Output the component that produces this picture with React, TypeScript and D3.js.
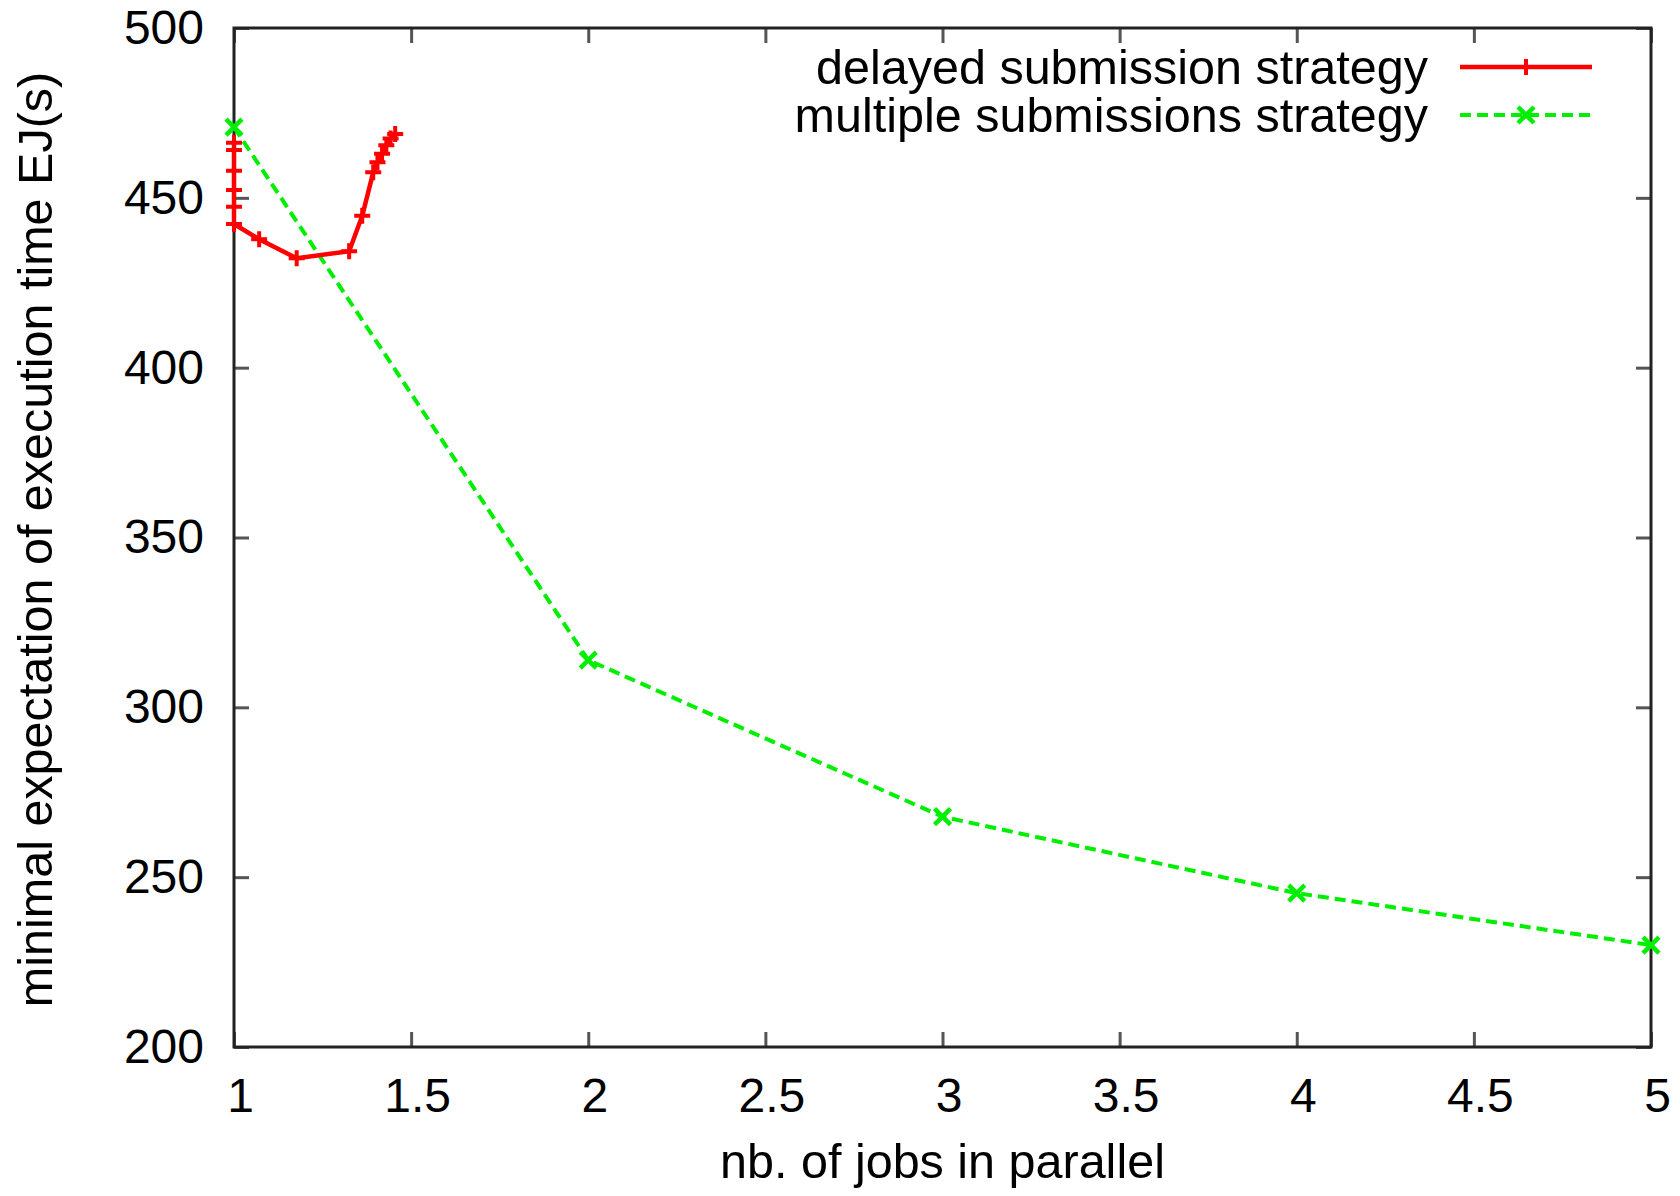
import * as d3 from "d3";
import { useRef, useEffect } from "react";

// delayed submission strategy (red, "+")
const delayedX = [1, 1, 1, 1, 1, 1, 1.071, 1.177, 1.325, 1.362, 1.393, 1.405, 1.418, 1.43, 1.442, 1.455];
const delayedY = [466.2, 464.1, 458.0, 452.3, 447.4, 442.3, 437.8, 432.2, 434.3, 444.7, 457.5, 460.5, 463.0, 465.5, 467.5, 468.8];

// multiple submissions strategy (green, "x")
const multipleX = [1, 2, 3, 4, 5];
const multipleY = [470.8, 313.9, 267.8, 245.3, 230.0];

const xTicks = [1, 1.5, 2, 2.5, 3, 3.5, 4, 4.5, 5];
const yTicks = [200, 250, 300, 350, 400, 450, 500];

const legendLabels = ["delayed submission strategy", "multiple submissions strategy"];

const W = 1680;
const H = 1196;
const FONT = "'Liberation Sans', Arial, Helvetica, sans-serif";

const App = () => {
    const chartRef = useRef<SVGSVGElement | null>(null);

    // отступы области графика
    const margin = { top: 28, bottom: 149, left: 234, right: 29 };
    const boundsWidth = W - margin.left - margin.right;
    const boundsHeight = H - margin.top - margin.bottom;

    useEffect(() => {
        const svg = d3.select(chartRef.current);
        svg.selectAll("*").remove();

        const scaleX = d3.scaleLinear().domain([1, 5]).range([0, boundsWidth]);
        const scaleY = d3.scaleLinear().domain([200, 500]).range([boundsHeight, 0]);

        const g = svg.append("g").attr("transform", `translate(${margin.left}, ${margin.top})`);

        // оси: тики внутрь, зеркальные тики сверху и справа
        const styleAxis = (sel: any) => {
            sel.select(".domain").remove();
            sel.selectAll(".tick line").attr("stroke", "#555").attr("stroke-width", 3);
            sel.selectAll(".tick text")
                .attr("fill", "#000")
                .style("font-family", FONT)
                .style("font-size", "48px");
        };

        const xAxis = g.append("g")
            .attr("transform", `translate(0, ${boundsHeight})`)
            .call(d3.axisBottom(scaleX).tickValues(xTicks).tickSize(-15).tickPadding(31).tickFormat(d3.format("")))
            .call(styleAxis);
        xAxis.selectAll(".tick text").attr("dx", 6);
        g.append("g")
            .call(d3.axisTop(scaleX).tickValues(xTicks).tickSize(-15).tickFormat(() => ""))
            .call(styleAxis);
        g.append("g")
            .call(d3.axisLeft(scaleY).tickValues(yTicks).tickSize(-15).tickPadding(30).tickFormat(d3.format("")))
            .call(styleAxis);
        g.append("g")
            .attr("transform", `translate(${boundsWidth}, 0)`)
            .call(d3.axisRight(scaleY).tickValues(yTicks).tickSize(-15).tickFormat(() => ""))
            .call(styleAxis);

        // рамка
        g.append("rect")
            .attr("x", 0)
            .attr("y", 0)
            .attr("width", boundsWidth)
            .attr("height", boundsHeight)
            .attr("fill", "none")
            .attr("stroke", "#222")
            .attr("stroke-width", 3);

        const red = "#ff0000";
        const green = "#00ee00";

        const plusPath = (s: number) => `M${-s},0H${s}M0,${-s}V${s}`;
        const crossPath = (s: number) => `M${-s},${-s}L${s},${s}M${-s},${s}L${s},${-s}`;

        const delayed = delayedX.map((x, i) => [x, delayedY[i]] as [number, number]);
        const multiple = multipleX.map((x, i) => [x, multipleY[i]] as [number, number]);

        const line = d3.line<[number, number]>()
            .x(d => scaleX(d[0]))
            .y(d => scaleY(d[1]));

        // зелёная линия
        g.append("path")
            .datum(multiple)
            .attr("d", line)
            .attr("fill", "none")
            .attr("stroke", green)
            .attr("stroke-width", 4)
            .attr("stroke-dasharray", "11,6");
        g.selectAll(".xm")
            .data(multiple)
            .enter()
            .append("path")
            .attr("transform", d => `translate(${scaleX(d[0])}, ${scaleY(d[1])})`)
            .attr("d", crossPath(8))
            .attr("stroke", green)
            .attr("stroke-width", 4.5)
            .attr("fill", "none");

        // красная линия
        g.append("path")
            .datum(delayed)
            .attr("d", line)
            .attr("fill", "none")
            .attr("stroke", red)
            .attr("stroke-width", 4.5)
            .attr("stroke-linejoin", "round");
        g.selectAll(".pm")
            .data(delayed)
            .enter()
            .append("path")
            .attr("transform", d => `translate(${scaleX(d[0])}, ${scaleY(d[1])})`)
            .attr("d", plusPath(8))
            .attr("stroke", red)
            .attr("stroke-width", 4)
            .attr("fill", "none");

        // легенда
        const legend = svg.append("g");
        const rows = [
            { y: 67, color: red, dash: null, marker: plusPath(8), mw: 4, lw: 4.5 },
            { y: 115, color: green, dash: "11,6", marker: crossPath(8), mw: 4.5, lw: 4 },
        ];
        rows.forEach((r, i) => {
            legend.append("text")
                .attr("x", 1428)
                .attr("y", r.y)
                .attr("dy", "0.35em")
                .attr("text-anchor", "end")
                .style("font-family", FONT)
                .style("font-size", "48.5px")
                .text(legendLabels[i]);
            legend.append("line")
                .attr("x1", 1460)
                .attr("x2", 1592)
                .attr("y1", r.y)
                .attr("y2", r.y)
                .attr("stroke", r.color)
                .attr("stroke-width", r.lw)
                .attr("stroke-dasharray", r.dash);
            legend.append("path")
                .attr("transform", `translate(1526, ${r.y})`)
                .attr("d", r.marker)
                .attr("stroke", r.color)
                .attr("stroke-width", r.mw)
                .attr("fill", "none");
        });

        // подписи осей
        svg.append("text")
            .attr("x", margin.left + boundsWidth / 2)
            .attr("y", 1178)
            .attr("text-anchor", "middle")
            .style("font-family", FONT)
            .style("font-size", "48.5px")
            .text("nb. of jobs in parallel");
        svg.append("text")
            .attr("transform", `translate(52, ${margin.top + boundsHeight / 2 + 2}) rotate(-90)`)
            .attr("text-anchor", "middle")
            .style("font-family", FONT)
            .style("font-size", "48.5px")
            .text("minimal expectation of execution time EJ(s)");
    }, []);

    return (
        <svg
            ref={chartRef}
            width={W}
            height={H}
            style={{ position: "absolute", left: 0, top: 0, background: "#fff" }}
        />
    );
};

export default App;
